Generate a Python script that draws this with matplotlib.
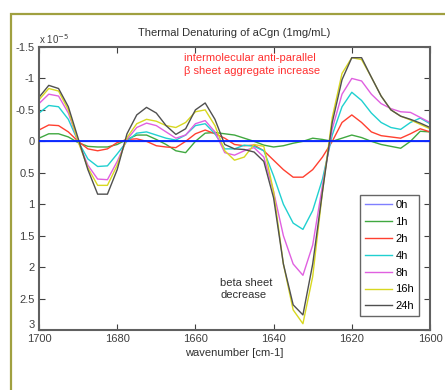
import numpy as np
import matplotlib
matplotlib.use("Agg")
import matplotlib.pyplot as plt
from matplotlib.patches import Rectangle

plt.rcParams['font.family'] = ['Liberation Sans', 'DejaVu Sans']

# wavenumber grid (cm-1) and difference spectra in units of 1e-5
wavenumber = [1700, 1697.5, 1695, 1692.5, 1690, 1687.5, 1685, 1682.5, 1680, 1677.5,
              1675, 1672.5, 1670, 1667.5, 1665, 1662.5, 1660, 1657.5, 1655, 1652.5,
              1650, 1647.5, 1645, 1642.5, 1640, 1637.5, 1635, 1632.5, 1630, 1627.5,
              1625, 1622.5, 1620, 1617.5, 1615, 1612.5, 1610, 1607.5, 1605, 1602.5, 1600]

h0 = [0.0] * len(wavenumber)
h1 = [-0.05, -0.12, -0.12, -0.07, 0.02, 0.08, 0.09, 0.09, 0.05, -0.03,
      -0.10, -0.10, -0.03, 0.05, 0.15, 0.18, 0.0, -0.13, -0.14, -0.12,
      -0.10, -0.05, 0.0, 0.06, 0.09, 0.07, 0.03, 0.0, -0.05, -0.03,
      0.0, -0.05, -0.10, -0.06, 0.0, 0.05, 0.08, 0.11, 0.0, -0.16, -0.15]
h2 = [-0.18, -0.26, -0.25, -0.15, 0.0, 0.12, 0.15, 0.12, 0.02, -0.03,
      -0.04, 0.0, 0.07, 0.09, 0.10, 0.0, -0.12, -0.18, -0.12, -0.05,
      0.05, 0.07, 0.06, 0.15, 0.30, 0.45, 0.57, 0.57, 0.45, 0.25,
      0.0, -0.30, -0.42, -0.30, -0.15, -0.09, -0.07, -0.05, -0.12, -0.20, -0.15]
h4 = [-0.45, -0.57, -0.55, -0.35, 0.0, 0.28, 0.40, 0.39, 0.20, 0.0,
      -0.13, -0.15, -0.10, -0.05, -0.02, -0.10, -0.25, -0.28, -0.12, 0.12,
      0.12, 0.06, 0.08, 0.15, 0.55, 1.00, 1.30, 1.40, 1.10, 0.60,
      -0.10, -0.55, -0.78, -0.65, -0.45, -0.30, -0.22, -0.19, -0.30, -0.37, -0.28]
h8 = [-0.60, -0.75, -0.72, -0.45, 0.0, 0.38, 0.60, 0.61, 0.32, -0.03,
      -0.22, -0.29, -0.25, -0.15, -0.05, -0.10, -0.28, -0.33, -0.15, 0.18,
      0.22, 0.15, 0.10, 0.25, 0.80, 1.50, 1.95, 2.13, 1.65, 0.70,
      -0.20, -0.75, -1.00, -0.96, -0.75, -0.60, -0.52, -0.47, -0.46, -0.38, -0.30]
h16 = [-0.66, -0.84, -0.80, -0.50, 0.0, 0.42, 0.70, 0.70, 0.38, -0.06,
       -0.28, -0.35, -0.32, -0.25, -0.22, -0.30, -0.47, -0.50, -0.25, 0.15,
       0.30, 0.25, 0.05, 0.08, 0.80, 1.95, 2.68, 2.90, 2.15, 0.80,
       -0.38, -1.08, -1.33, -1.30, -1.02, -0.72, -0.50, -0.40, -0.34, -0.27, -0.20]
h24 = [-0.70, -0.89, -0.84, -0.55, -0.05, 0.45, 0.84, 0.84, 0.45, -0.12,
       -0.42, -0.54, -0.45, -0.25, -0.11, -0.20, -0.50, -0.61, -0.35, 0.05,
       0.12, 0.13, 0.17, 0.32, 0.90, 1.95, 2.60, 2.76, 1.95, 0.80,
       -0.30, -0.98, -1.33, -1.33, -1.02, -0.72, -0.50, -0.40, -0.35, -0.29, -0.22]

labels = ["0h", "1h", "2h", "4h", "8h", "16h", "24h"]
series = [h0, h1, h2, h4, h8, h16, h24]
colors = ["#7f7fff", "#40a840", "#ff4030", "#20d0d0", "#e060e0", "#d8d820", "#505050"]

xticks = [1700, 1680, 1660, 1640, 1620, 1600]
yticks = [-1.5, -1, -0.5, 0, 0.5, 1, 1.5, 2, 2.5, 3]
ytick_labels = ["-1.5", "-1", "-0.5", "0", "0.5", "1", "1.5", "2", "2.5", "3"]

fig = plt.figure(figsize=(4.45, 3.9), dpi=100)
fig.patch.set_facecolor("white")

# olive frame around the figure (runs off the right and bottom)
fig.patches.append(Rectangle((11 / 445, -0.1), 1.2, 1 - 14 / 390 + 0.1,
                             transform=fig.transFigure, fill=False,
                             edgecolor="#a0a040", lw=1.6, zorder=0))

ax = fig.add_axes([39 / 445, 1 - 330 / 390, 391 / 445, 283 / 390])

for vals, lab, c in zip(series, labels, colors):
    ax.plot(wavenumber, vals, color=c, lw=1.0, label=lab)
ax.axhline(0, color="#0020ff", lw=1.3, zorder=3)

ax.set_xlim(1700, 1600)
ax.set_ylim(3, -1.5)
ax.set_xticks(xticks)
ax.set_xticklabels([str(t) for t in xticks])
ax.set_yticks(yticks)
ax.set_yticklabels(ytick_labels)
ax.tick_params(direction="in", top=True, right=True, length=4, width=0.8,
               labelsize=8, colors="#404040", pad=3)
ax.get_yticklabels()[-1].set_va("bottom")
for s in ax.spines.values():
    s.set_color("#606060")
    s.set_linewidth(1.5)

ax.set_title("Thermal Denaturing of aCgn (1mg/mL)", fontsize=8, color="#303030", pad=8)
ax.set_xlabel("wavenumber [cm-1]", fontsize=8, color="#303030", labelpad=3)
ax.text(0.0, 1.005, r"x 10$^{-5}$", transform=ax.transAxes, fontsize=7,
        color="#404040", ha="left", va="bottom")

ax.text(1663, -1.22, "intermolecular anti-parallel\n\u03b2 sheet aggregate increase",
        color="#ff3030", fontsize=8, ha="left", va="center", linespacing=1.3)
ax.text(1653.7, 2.35, "beta sheet\ndecrease", color="#303030", fontsize=8,
        ha="left", va="center", linespacing=1.3)

leg = ax.legend(loc="upper right", bbox_to_anchor=(0.972, 0.477), fontsize=8,
                frameon=True, fancybox=False, handlelength=2.4, handletextpad=0.3,
                borderpad=0.45, labelspacing=0.62, borderaxespad=0)
leg.get_frame().set_edgecolor("#404040")
leg.get_frame().set_linewidth(1.0)

fig.savefig("out.png", dpi=100)
